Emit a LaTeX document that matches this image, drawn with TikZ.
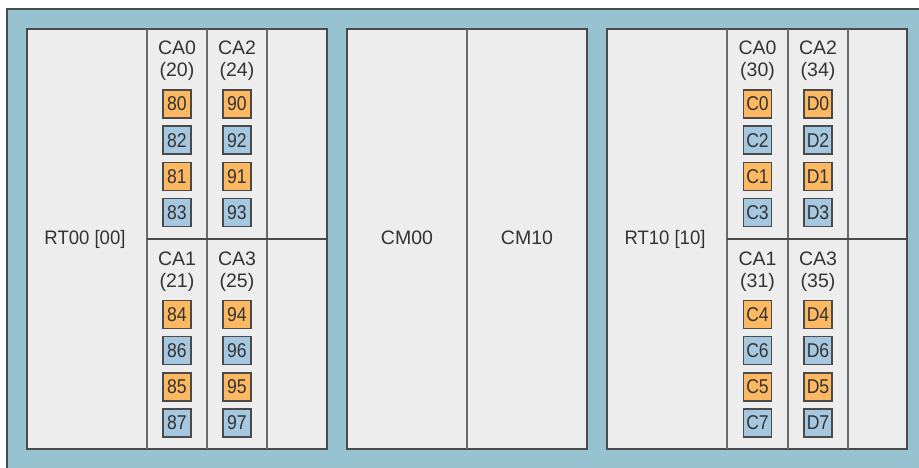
\documentclass[tikz,border=0pt]{standalone}
\usepackage{fontspec}
\setmainfont{Liberation Sans}
\definecolor{frameblue}{HTML}{97C3D0}
\definecolor{panelgray}{HTML}{EDEDED}
\definecolor{corange}{HTML}{FDB862}
\definecolor{cblue}{HTML}{A5C7DF}
\definecolor{lined}{HTML}{4A4A4A}
\definecolor{linem}{HTML}{6A6A6A}
\definecolor{txt}{HTML}{333333}
\tikzset{
  panelbox/.style={draw=lined, line width=1.6pt, fill=panelgray},
  divider/.style={draw=linem, line width=1.6pt},
  hdivider/.style={draw=lined, line width=1.2pt},
  chip/.style={draw=lined, line width=1.4pt, minimum width=28pt, minimum height=28pt, inner sep=0pt, font=\fontsize{20}{20}\selectfont, text=txt},
  lbl/.style={font=\fontsize{19.5}{19.5}\selectfont, text=txt, inner sep=0pt},
}
\newcommand\chipstack[3]{%
  \foreach \t/\c [count=\i from 0] in {#3} {
    \node[chip, fill=\c] (chip-\t) at (#1, #2+36.2*\i) {\scalebox{0.88}[1]{\t}};
  }}
\begin{document}
\begin{tikzpicture}[x=1pt, y=-1pt]
\useasboundingbox (0,0) rectangle (919,468);
\fill[white] (0,0) rectangle (919,468);
\begin{scope}
  \clip (0,0) rectangle (919,468);
  \draw[draw=lined, line width=1.6pt, fill=frameblue] (7,9) rectangle (935,485);
\end{scope}
% left panel
\draw[panelbox] (27,29) rectangle (327,449);
\draw[divider] (147,29) -- (147,449);
\draw[divider] (207,29) -- (207,449);
\draw[divider] (267,29) -- (267,449);
\draw[hdivider] (147,239) -- (327,239);
\node[lbl] (rt00) at (85,239) {\scalebox{0.95}[1]{RT00 [00]}};
\node[lbl, anchor=base] (ca0a) at (177,55) {CA0};
\node[lbl, anchor=base] (ca0an) at (177,77) {(20)};
\node[lbl, anchor=base] (ca2a) at (237,55) {CA2};
\node[lbl, anchor=base] (ca2an) at (237,77) {(24)};
\node[lbl, anchor=base] (ca1a) at (177,265.5) {CA1};
\node[lbl, anchor=base] (ca1an) at (177,287.5) {(21)};
\node[lbl, anchor=base] (ca3a) at (237,265.5) {CA3};
\node[lbl, anchor=base] (ca3an) at (237,287.5) {(25)};
\chipstack{177}{104}{80/corange,82/cblue,81/corange,83/cblue}
\chipstack{237}{104}{90/corange,92/cblue,91/corange,93/cblue}
\chipstack{177}{314.5}{84/corange,86/cblue,85/corange,87/cblue}
\chipstack{237}{314.5}{94/corange,96/cblue,95/corange,97/cblue}
% middle panel
\draw[panelbox] (347,29) rectangle (587,449);
\draw[divider] (467,29) -- (467,449);
\node[lbl] (cm00) at (407,238) {CM00};
\node[lbl] (cm10) at (527,238) {CM10};
% right panel
\draw[panelbox] (607,29) rectangle (907,449);
\draw[divider] (727,29) -- (727,449);
\draw[divider] (788,29) -- (788,449);
\draw[divider] (848,29) -- (848,449);
\draw[hdivider] (727,239) -- (907,239);
\node[lbl] (rt10) at (665,239) {\scalebox{0.95}[1]{RT10 [10]}};
\node[lbl, anchor=base] (ca0b) at (757.5,55) {CA0};
\node[lbl, anchor=base] (ca0bn) at (757.5,77) {(30)};
\node[lbl, anchor=base] (ca2b) at (818,55) {CA2};
\node[lbl, anchor=base] (ca2bn) at (818,77) {(34)};
\node[lbl, anchor=base] (ca1b) at (757.5,265.5) {CA1};
\node[lbl, anchor=base] (ca1bn) at (757.5,287.5) {(31)};
\node[lbl, anchor=base] (ca3b) at (818,265.5) {CA3};
\node[lbl, anchor=base] (ca3bn) at (818,287.5) {(35)};
\chipstack{757.5}{104}{C0/corange,C2/cblue,C1/corange,C3/cblue}
\chipstack{818}{104}{D0/corange,D2/cblue,D1/corange,D3/cblue}
\chipstack{757.5}{314.5}{C4/corange,C6/cblue,C5/corange,C7/cblue}
\chipstack{818}{314.5}{D4/corange,D6/cblue,D5/corange,D7/cblue}
\end{tikzpicture}
\end{document}
